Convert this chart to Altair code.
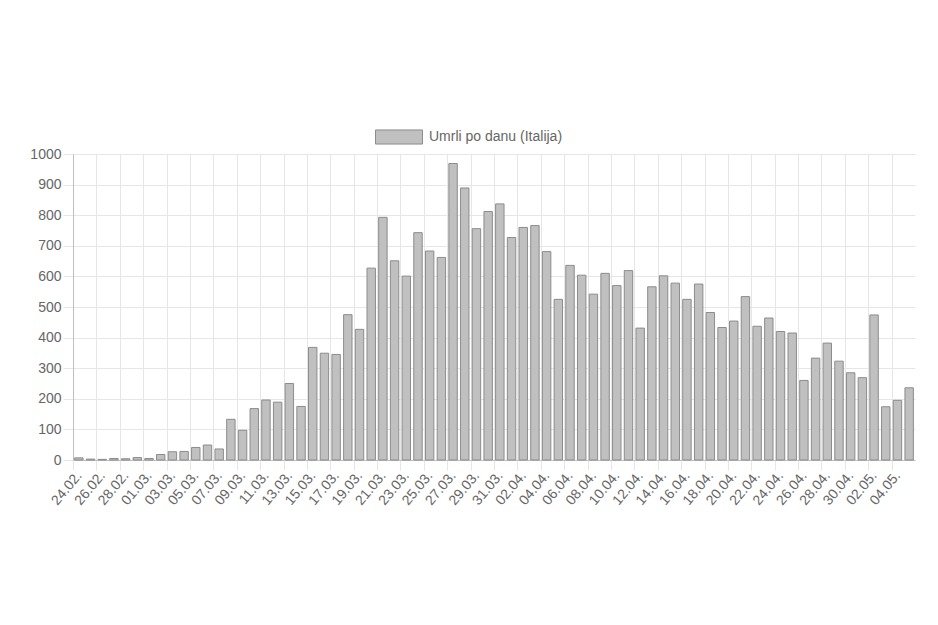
import altair as alt
import pandas as pd

datumi = [
    "24.02.", "25.02.", "26.02.", "27.02.", "28.02.", "29.02.",
    "01.03.", "02.03.", "03.03.", "04.03.", "05.03.", "06.03.", "07.03.", "08.03.",
    "09.03.", "10.03.", "11.03.", "12.03.", "13.03.", "14.03.", "15.03.", "16.03.",
    "17.03.", "18.03.", "19.03.", "20.03.", "21.03.", "22.03.", "23.03.", "24.03.",
    "25.03.", "26.03.", "27.03.", "28.03.", "29.03.", "30.03.", "31.03.",
    "01.04.", "02.04.", "03.04.", "04.04.", "05.04.", "06.04.", "07.04.", "08.04.",
    "09.04.", "10.04.", "11.04.", "12.04.", "13.04.", "14.04.", "15.04.", "16.04.",
    "17.04.", "18.04.", "19.04.", "20.04.", "21.04.", "22.04.", "23.04.", "24.04.",
    "25.04.", "26.04.", "27.04.", "28.04.", "29.04.", "30.04.",
    "01.05.", "02.05.", "03.05.", "04.05.", "05.05.",
]

umrli = [
    7, 3, 2, 5, 4, 8,
    5, 18, 27, 28, 41, 49, 36, 133, 97, 168, 196, 189, 250, 175, 368, 349,
    345, 475, 427, 627, 793, 651, 601, 743, 683, 662, 969, 889, 756, 812, 837,
    727, 760, 766, 681, 525, 636, 604, 542, 610, 570, 619, 431, 566, 602, 578,
    525, 575, 482, 433, 454, 534, 437, 464, 420, 415, 260, 333, 382, 323, 285,
    269, 474, 174, 195, 236,
]

serija = "Umrli po danu (Italija)"
y_ticks = [0, 100, 200, 300, 400, 500, 600, 700, 800, 900, 1000]

df = pd.DataFrame({"datum": datumi, "umrli": umrli, "serija": serija})

W, H = 842, 306
step = W / len(datumi)
grid = "#e6e6e6"
txt = "#666666"

chart = (
    alt.Chart(df)
    .mark_bar(stroke="#8c8c8c", strokeWidth=1)
    .encode(
        x=alt.X(
            "datum:N",
            sort=None,
            title=None,
            scale=alt.Scale(paddingInner=0.28, paddingOuter=0.14),
            axis=alt.Axis(
                values=datumi[::2],
                labelAngle=-50,
                labelAlign="right",
                labelBaseline="middle",
                bandPosition=0.5,
                tickOffset=-step / 2,
                labelOffset=step / 2,
                tickSize=10,
                tickColor=grid,
                grid=True,
                gridColor=grid,
                domainColor="#bfbfbf",
                labelPadding=3,
            ),
        ),
        y=alt.Y(
            "umrli:Q",
            title=None,
            scale=alt.Scale(domain=[0, 1000], nice=False),
            axis=alt.Axis(
                values=y_ticks,
                format="d",
                tickSize=10,
                tickColor=grid,
                gridColor=grid,
                domainColor="#bfbfbf",
                labelPadding=2,
            ),
        ),
        fill=alt.Fill(
            "serija:N",
            scale=alt.Scale(range=["#c0c0c0"]),
            legend=alt.Legend(
                title=None,
                orient="none",
                legendX=302,
                legendY=-41,
                symbolType="M-1,-0.3H1V0.3H-1Z",
                symbolSize=2209,
                symbolStrokeColor="#8c8c8c",
                symbolStrokeWidth=1,
                symbolOpacity=1,
                labelFontSize=14,
                labelColor=txt,
                labelOffset=6,
            ),
        ),
    )
    .properties(
        width=W,
        height=H,
        autosize=alt.AutoSizeParams(type="none"),
        padding={"left": 65, "top": 146, "right": 15, "bottom": 100},
    )
    .configure(font="Liberation Sans", background="white")
    .configure_view(stroke=None)
    .configure_axis(labelFontSize=14, labelColor=txt, labelFont="Liberation Sans")
    .configure_legend(labelFont="Liberation Sans")
)

chart.save("out.html", embed_options={"renderer": "svg", "actions": False})
